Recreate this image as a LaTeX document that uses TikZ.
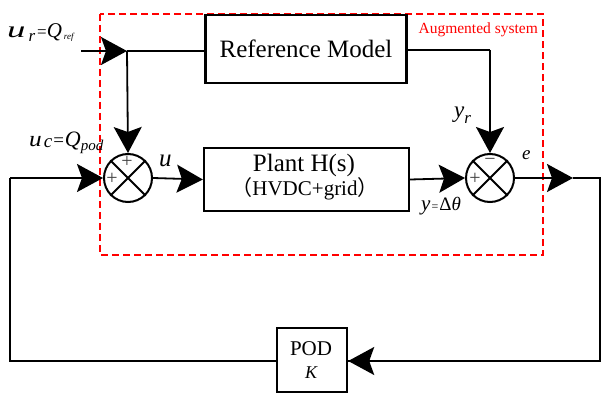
\documentclass[tikz,border=0pt]{standalone}
\usepackage{fontspec}
\setmainfont{Liberation Serif}
\newfontfamily\cjk{Noto Sans CJK SC}
\usetikzlibrary{arrows.meta}
\newcommand{\fsz}[1]{\fontsize{#1}{#1}\selectfont}
\begin{document}
\begin{tikzpicture}[x=1pt,y=-1pt,
  blk/.style={draw, line width=2.4pt, rectangle, inner sep=0pt, align=center},
  sumnode/.style={draw, line width=2pt, circle, minimum size=48pt, inner sep=0pt},
  wire/.style={line width=1.8pt},
  arr/.style={wire, -{Stealth[length=26pt,width=28pt,inset=5pt]}},
  lbl/.style={inner sep=0pt, font=\itshape},
  sign/.style={inner sep=0pt, font=\fsz{20}, text=black!75}
]
\useasboundingbox (0,0) rectangle (601,395);

% dashed augmented box
\draw[red, line width=1.2pt, dash pattern=on 7pt off 4pt] (100,14) rectangle (543,255);
\node[red, anchor=base east, inner sep=0pt, font=\fsz{15.5}] (aug) at (538,34) {Augmented system};

% blocks
\node[blk, minimum width=201pt, minimum height=68pt, font=\fsz{25}] (ref) at (306,49) {Reference Model};
\node[blk, minimum width=205pt, minimum height=63pt] (plant) at (306.5,179.5) {};
\node[inner sep=0pt, anchor=base, font=\fsz{25}] (pt1) at (304,172) {Plant H(s)};
\node[inner sep=0pt, anchor=base, font=\fsz{21}] (pt2) at (305,196) {{\cjk （}HVDC+grid{\cjk ）}};
\node[blk, minimum width=70pt, minimum height=64pt] (pod) at (312,360) {};
\node[inner sep=0pt, anchor=base, font=\fsz{21}] (pod1) at (311,355) {POD};
\node[inner sep=0pt, anchor=base, font=\fsz{18}\itshape] (pod2) at (311,378) {K};

\node[sumnode] (s1) at (128,178) {};
\node[sumnode] (s2) at (490,178) {};
\draw[line width=1.8pt] (s1.north west) -- (s1.south east) (s1.north east) -- (s1.south west);
\draw[line width=1.8pt] (s2.north west) -- (s2.south east) (s2.north east) -- (s2.south west);
\node[sign] (s1t) at (127,162) {+};
\node[sign] (s1l) at (112,179) {+};
\node[sign] (s2t) at (490,162) {\textminus};
\node[sign] (s2l) at (475,179) {+};

% coordinates
\coordinate (ustart) at (81,51);
\coordinate (branch) at (127,51);
\coordinate (refcorner) at (490,50);
\coordinate (outtip) at (573,178);
\coordinate (outend) at (600,178);
\coordinate (brc) at (600,361);
\coordinate (blc) at (10,361);
\coordinate (tlc) at (10,178);

% wires
\draw[arr] (ustart) -- (branch);
\draw[wire] (branch) -- (ref.west |- branch);
\draw[arr] (branch) -- (s1.north);
\draw[wire] (ref.east |- refcorner) -- (refcorner);
\draw[arr] (refcorner) -- (s2.north);
\draw[arr] (s1.east) -- (plant.west);
\draw[arr] (plant.east) -- (s2.west);
\draw[arr] (s2.east) -- (outtip);
\draw[wire] (outtip) -- (outend) -- (brc) -- (pod.east |- brc);
\draw[arr] (brc) -- (pod.east |- brc);
\draw[wire] (pod.west |- blc) -- (blc) -- (tlc);
\draw[arr] (tlc) -- (s1.west);

% labels
\node[lbl, anchor=base west] (lur) at (7,38) {\fsz{23}\scalebox{1.6}[1]{u}\hspace{3pt}\raisebox{-4pt}{\fsz{17}r}\hspace{2pt}{\upshape\fsz{17}=}\fsz{21}Q\hspace{2pt}\raisebox{-2pt}{\fsz{9}ref}};
\node[lbl, anchor=base west] (luc) at (29,147) {\fsz{22}\scalebox{1.15}[1]{u}\hspace{2pt}\raisebox{-1pt}{\fsz{19}c}\hspace{1pt}{\upshape\fsz{19}=}\hspace{1pt}\fsz{22}Q\raisebox{-4pt}{\fsz{15}pod}};
\node[lbl, anchor=base west, font=\fsz{25}\itshape] (lu) at (159,167) {u};
\node[lbl, anchor=base west] (lyr) at (454,118) {\fsz{23}y\raisebox{-6pt}{\fsz{17}r}};
\node[lbl, anchor=base west, font=\fsz{19}\itshape] (le) at (522,160) {e};
\node[lbl, anchor=base west] (ly) at (421,210) {\fsz{21}y\hspace{1pt}{\upshape\fsz{12}=}\hspace{1pt}{\upshape\fsz{19}Δ}\fsz{19}θ};
\end{tikzpicture}
\end{document}
